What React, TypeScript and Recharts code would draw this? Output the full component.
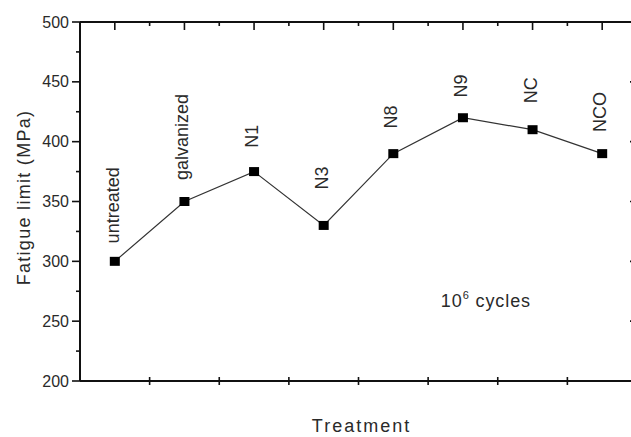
import React from 'react';
import { LineChart, Line, XAxis, YAxis, LabelList, ReferenceDot, Label } from 'recharts';

const categories = ['untreated', 'galvanized', 'N1', 'N3', 'N8', 'N9', 'NC', 'NCO'];
const fatigueLimit = [300, 350, 375, 330, 390, 420, 410, 390];
// where each rotated point label starts (MPa)
const labelAt = [315, 368, 395, 360, 411, 437, 432, 408];
const yTicks = [200, 225, 250, 275, 300, 325, 350, 375, 400, 425, 450, 475, 500];
const xTopTicks = [0.5, 1, 1.5, 2, 2.5, 3, 3.5, 4, 4.5, 5, 5.5, 6, 6.5, 7, 7.5];
const xBottomTicks = [1, 2, 3, 4, 5, 6, 7];
const annotationPos = { x: 5.83, y: 268 };
const annotationText = { base: '10', sup: '6', rest: ' cycles' };

const data = categories.map((name, i) => ({
  name,
  pos: i + 0.5,
  value: fatigueLimit[i],
  labelAt: labelAt[i],
}));

const AXIS = '#111';
const TEXT = '#2a2a2a';
const FONT = '"Liberation Sans", Arial, Helvetica, sans-serif';

const LeftTick = (p: any) => {
  const { x, y, payload } = p;
  const major = payload.value % 50 === 0;
  const len = major ? 8 : 4;
  return (
    <g>
      <line x1={x - len} x2={x} y1={y} y2={y} stroke={AXIS} strokeWidth={1.6} />
      {major && (
        <text x={x - 11} y={y} textAnchor="end" dominantBaseline="central" fontSize={16} fill={TEXT} fontFamily={FONT}>
          {payload.value}
        </text>
      )}
    </g>
  );
};

const RightTick = (p: any) => {
  const { x, y, payload } = p;
  const major = payload.value % 50 === 0;
  const len = major ? 7 : 4;
  return <line x1={x - len} x2={x} y1={y} y2={y} stroke={AXIS} strokeWidth={1.6} />;
};

const TopTick = (p: any) => {
  const { x, y, payload } = p;
  const major = !Number.isInteger(payload.value);
  const len = major ? 8 : 4;
  return <line x1={x} x2={x} y1={y} y2={y + len} stroke={AXIS} strokeWidth={1.6} />;
};

const BottomTick = (p: any) => {
  const { x, y } = p;
  return <line x1={x} x2={x} y1={y - 4} y2={y + 4} stroke={AXIS} strokeWidth={1.6} />;
};

const SquareDot = (p: any) => {
  const { cx, cy, index } = p;
  if (cx == null || cy == null) return <g key={index} />;
  return <rect key={index} x={cx - 5} y={cy - 4.5} width={10} height={9} fill="#000" />;
};

const PointLabel = (p: any) => {
  const { x, y, value } = p;
  const bx = x + 4;
  return (
    <text
      x={bx}
      y={y}
      transform={`rotate(-90 ${bx} ${y})`}
      textAnchor="start"
      fontSize={18}
      fill={TEXT}
      fontFamily={FONT}
    >
      {value}
    </text>
  );
};

const Annotation = (p: any) => {
  const { cx, cy } = p;
  return (
    <text x={cx} y={cy + 7} textAnchor="middle" fontSize={18} fill={TEXT} fontFamily={FONT} letterSpacing={0.9}>
      <tspan>{annotationText.base}</tspan>
      <tspan dy={-8} fontSize={11}>{annotationText.sup}</tspan>
      <tspan dy={8}>{annotationText.rest}</tspan>
    </text>
  );
};

const XTitle = (p: any) => {
  const vb = p.viewBox || {};
  return (
    <text x={vb.x + vb.width / 2 + 3} y={vb.y + 51} textAnchor="middle" fontSize={18} fill={TEXT} fontFamily={FONT} letterSpacing={2}>
      Treatment
    </text>
  );
};

const YTitle = (p: any) => {
  const vb = p.viewBox || {};
  const x = 30;
  const y = vb.y + vb.height / 2 - 4;
  return (
    <text x={x} y={y} transform={`rotate(-90 ${x} ${y})`} textAnchor="middle" fontSize={18} fill={TEXT} fontFamily={FONT} letterSpacing={1.3}>
      Fatigue limit (MPa)
    </text>
  );
};

export default function App() {
  return (
    <div style={{ position: 'absolute', left: 0, top: 0, width: 631, height: 437, overflow: 'hidden', background: '#fff', fontFamily: FONT }}>
      <LineChart width={660} height={437} data={data} margin={{ top: 0, right: 0, bottom: 0, left: 0 }}>
        <XAxis
          xAxisId="b"
          dataKey="pos"
          type="number"
          domain={[0, 8]}
          ticks={xBottomTicks}
          interval={0}
          orientation="bottom"
          height={56}
          tickSize={0}
          tickMargin={0}
          tickLine={false}
          tick={BottomTick}
          axisLine={{ stroke: AXIS, strokeWidth: 2 }}
        >
          <Label content={XTitle} />
        </XAxis>
        <XAxis
          xAxisId="t"
          dataKey="pos"
          type="number"
          domain={[0, 8]}
          ticks={xTopTicks}
          interval={0}
          orientation="top"
          height={22}
          tickSize={0}
          tickMargin={0}
          tickLine={false}
          tick={TopTick}
          axisLine={{ stroke: AXIS, strokeWidth: 2 }}
        />
        <YAxis
          yAxisId="l"
          type="number"
          domain={[200, 500]}
          ticks={yTicks}
          interval={0}
          orientation="left"
          width={80}
          tickSize={0}
          tickMargin={0}
          tickLine={false}
          tick={LeftTick}
          axisLine={{ stroke: AXIS, strokeWidth: 2 }}
        >
          <Label content={YTitle} />
        </YAxis>
        <YAxis
          yAxisId="r"
          type="number"
          domain={[200, 500]}
          ticks={yTicks}
          interval={0}
          orientation="right"
          width={23}
          tickSize={0}
          tickMargin={0}
          tickLine={false}
          tick={RightTick}
          axisLine={{ stroke: AXIS, strokeWidth: 2 }}
        />
        <Line
          xAxisId="b"
          yAxisId="l"
          type="linear"
          dataKey="value"
          stroke="#333"
          strokeWidth={1.2}
          dot={SquareDot}
          activeDot={false}
          isAnimationActive={false}
        />
        <Line
          xAxisId="t"
          yAxisId="r"
          type="linear"
          dataKey="labelAt"
          stroke="none"
          dot={false}
          activeDot={false}
          isAnimationActive={false}
        >
          <LabelList dataKey="name" content={PointLabel} />
        </Line>
        <ReferenceDot
          xAxisId="b"
          yAxisId="l"
          x={annotationPos.x}
          y={annotationPos.y}
          r={0}
          shape={Annotation}
        />
      </LineChart>
    </div>
  );
}
